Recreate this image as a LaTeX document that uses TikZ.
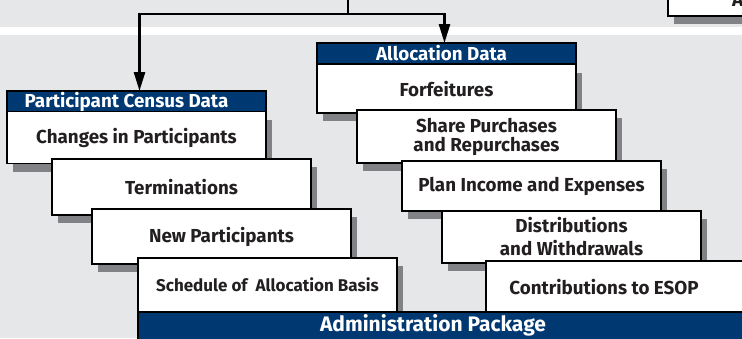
\documentclass[tikz,border=0pt]{standalone}
\usepackage{fontspec}
\setmainfont{Fira Sans}
\usetikzlibrary{arrows.meta,shadows}
\definecolor{bggray}{HTML}{E6E7E8}
\definecolor{shgray}{HTML}{808285}
\definecolor{navy}{HTML}{003872}
\definecolor{ink}{HTML}{231F20}
\tikzset{
  every node/.style={inner sep=0pt, outer sep=0pt},
  card/.style={draw=black, line width=1.2pt, fill=white, minimum width=259pt, anchor=north west,
    text=ink, font=\bfseries\fontsize{18.8}{19}\selectfont, align=center,
    general shadow={fill=shgray, shadow xshift=6pt, shadow yshift=-8pt}},
  hdr/.style={draw=black, line width=1.2pt, fill=navy, minimum width=259pt, minimum height=21pt, anchor=north west,
    text=white, font=\bfseries\fontsize{18.8}{19}\selectfont},
  conn/.style={line width=2.6pt, draw=black},
  arr/.style={conn, -{Triangle[length=19pt,width=11pt]}},
}
\begin{document}
\begin{tikzpicture}[x=1pt,y=-1pt]
\useasboundingbox (0,0) rectangle (742,338);
\fill[bggray] (0,0) rectangle (742,338);
\fill[white] (0,27) rectangle (742,35);
% top right box
\node[card, minimum width=90pt, minimum height=30pt] (topbox) at (668,-14) {};
\node[anchor=base west, text=ink, font=\bfseries\fontsize{18.8}{19}\selectfont] (toptext) at (732,6) {A};
% connectors
\coordinate (src) at (348,-2);
\coordinate (junc) at (348,14);
% left column
\node[hdr] (pcd) at (7,91) {\hspace*{-20pt}\raisebox{1.5pt}{Participant Census Data}};
\node[card, minimum height=52pt] (chg) at (7,111.5) {Changes in Participants};
\node[card, minimum height=56pt] (term) at (52,159) {\raisebox{-2pt}{Terminations}};
\node[card, minimum height=55pt] (newp) at (92,209) {\raisebox{-3pt}{New Participants}};
\node[card, minimum height=54pt] (sched) at (138,258) {\raisebox{-2pt}{\fontsize{17}{18}\selectfont Schedule of\ \ Allocation Basis}};
% right column
\node[hdr] (alloc) at (317,43) {\hspace*{-10pt}\raisebox{1.5pt}{Allocation Data}};
\node[card, minimum height=48.5pt] (forf) at (317,64.5) {\raisebox{-1pt}{Forfeitures}};
\node[card, minimum height=53pt] (share) at (357,110) {\raisebox{-2pt}{\parbox{250pt}{\centering Share Purchases\\and Repurchases}}};
\node[card, minimum height=50pt] (plan) at (402,161) {\raisebox{-1pt}{Plan Income and Expenses}};
\node[card, minimum height=52pt] (dist) at (442,211) {\raisebox{-1pt}{\parbox{250pt}{\centering Distributions\\[4pt]and Withdrawals}}};
\node[card, minimum height=60pt, minimum width=290pt] (contrib) at (486,261) {};
\node[anchor=center, text=ink, font=\bfseries\fontsize{18.8}{19}\selectfont] (contribtext) at (604,287) {Contributions to ESOP};
% admin bar
\node[draw=black, line width=1.2pt, fill=navy, minimum width=620pt, minimum height=30pt, anchor=north west] (admin) at (138,312) {};
\node[text=white, font=\bfseries\fontsize{21}{22}\selectfont] (admintext) at (433,325) {Administration Package};
\draw[conn] (src) -- (junc);
\draw[arr] (junc) -| ([xshift=3pt]pcd.north);
\draw[arr] (junc) -| ([xshift=-2pt]alloc.north);
\end{tikzpicture}
\end{document}
